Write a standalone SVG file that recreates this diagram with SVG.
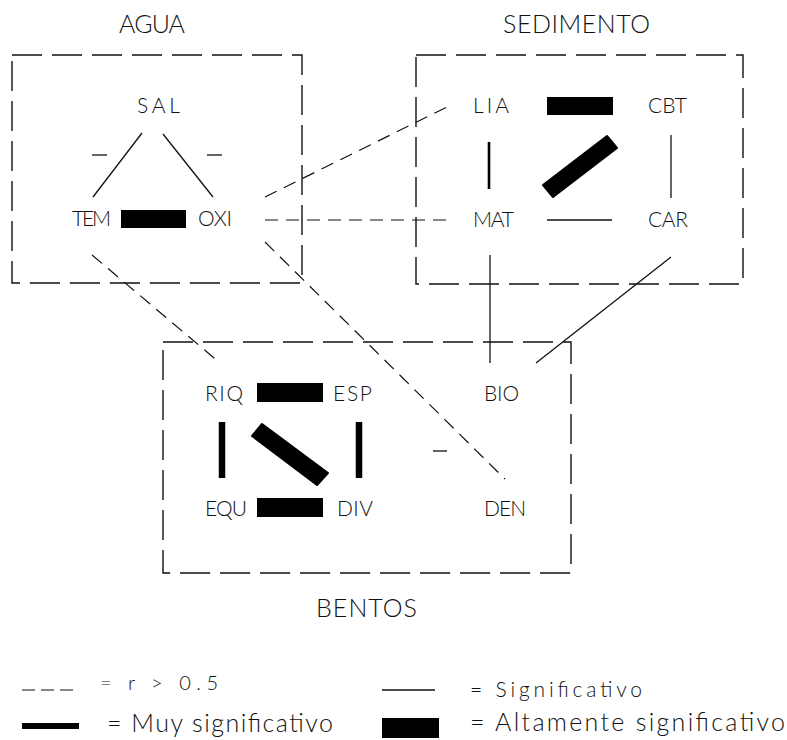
<svg xmlns="http://www.w3.org/2000/svg" width="787" height="740" viewBox="0 0 787 740">
  <style>
    .frame { fill: none; stroke: #111; stroke-width: 1.4; stroke-dasharray: 30 10; }
    .title { font-family: Lato, "Liberation Sans", sans-serif; font-weight: 300; font-size: 25px; fill: #111; }
    .lbl { font-family: Lato, "Liberation Sans", sans-serif; font-weight: 300; font-size: 21px; fill: #111; }
    .leg { font-family: Lato, "Liberation Sans", sans-serif; font-weight: 300; fill: #111; }
    .sig { stroke: #111; stroke-width: 1.3; fill: none; }
    .r05 { stroke: #111; stroke-width: 1.2; fill: none; stroke-dasharray: 13 8; }
    .muy { stroke: #000; stroke-width: 5; fill: none; }
    .alt { fill: #000; }
    .altd { fill: #000; stroke: #000; stroke-width: 2; stroke-linejoin: round; }
  </style>

  <!-- group frames with their headings -->
  <g id="agua">
    <rect class="frame" x="12" y="55" width="290" height="228"/>
    <text class="title" x="119" y="33" textLength="66" lengthAdjust="spacing">AGUA</text>
  </g>
  <g id="sedimento">
    <rect class="frame" x="416" y="55" width="327" height="229"/>
    <text class="title" x="503" y="33" textLength="147" lengthAdjust="spacing">SEDIMENTO</text>
  </g>
  <g id="bentos">
    <rect class="frame" x="163" y="342" width="408" height="231"/>
    <text class="title" x="316" y="617" textLength="101" lengthAdjust="spacing">BENTOS</text>
  </g>

  <!-- variables -->
  <g id="node-sal"><text class="lbl" x="137" y="113" textLength="43" lengthAdjust="spacing">SAL</text></g>
  <g id="node-tem"><text class="lbl" x="72" y="226" textLength="39" lengthAdjust="spacing">TEM</text></g>
  <g id="node-oxi"><text class="lbl" x="198" y="226" textLength="34" lengthAdjust="spacing">OXI</text></g>
  <g id="node-lia"><text class="lbl" x="473" y="113" textLength="36" lengthAdjust="spacing">LIA</text></g>
  <g id="node-cbt"><text class="lbl" x="648" y="113" textLength="39" lengthAdjust="spacing">CBT</text></g>
  <g id="node-mat"><text class="lbl" x="473" y="227" textLength="41" lengthAdjust="spacing">MAT</text></g>
  <g id="node-car"><text class="lbl" x="648" y="227" textLength="40" lengthAdjust="spacing">CAR</text></g>
  <g id="node-riq"><text class="lbl" x="205" y="401" textLength="38" lengthAdjust="spacing">RIQ</text></g>
  <g id="node-esp"><text class="lbl" x="333" y="401" textLength="39" lengthAdjust="spacing">ESP</text></g>
  <g id="node-bio"><text class="lbl" x="484" y="401" textLength="35" lengthAdjust="spacing">BIO</text></g>
  <g id="node-equ"><text class="lbl" x="205" y="516" textLength="42" lengthAdjust="spacing">EQU</text></g>
  <g id="node-div"><text class="lbl" x="337" y="516" textLength="36" lengthAdjust="spacing">DIV</text></g>
  <g id="node-den"><text class="lbl" x="484" y="516" textLength="42" lengthAdjust="spacing">DEN</text></g>

  <!-- correlations -->
  <g id="connectors">
    <!-- significant (thin solid) -->
    <line class="sig" x1="142" y1="133" x2="93" y2="197"/>
    <line class="sig" x1="163" y1="134" x2="213" y2="197"/>
    <line class="sig" x1="671" y1="135" x2="671" y2="198"/>
    <line class="sig" x1="547" y1="220" x2="612" y2="220"/>
    <line class="sig" x1="490" y1="255" x2="490" y2="363"/>
    <line class="sig" x1="671" y1="257" x2="536" y2="363"/>
    <!-- negative signs -->
    <line class="sig" x1="92" y1="155" x2="107" y2="155"/>
    <line class="sig" x1="207" y1="155" x2="222" y2="155"/>
    <line class="sig" x1="433" y1="451" x2="447" y2="451"/>

    <!-- r > 0.5 (dashed) -->
    <line class="r05" x1="265" y1="197" x2="453" y2="104"/>
    <line class="r05" x1="265" y1="220" x2="453" y2="220"/>
    <line class="r05" x1="265" y1="242" x2="505" y2="479"/>
    <line class="r05" x1="92" y1="255" x2="220" y2="363"/>

    <!-- very significant -->
    <line class="muy" x1="489" y1="142" x2="489" y2="189" style="stroke-width:2.6"/>
    <line class="muy" x1="222" y1="422" x2="222" y2="478" style="stroke-width:6.5"/>
    <line class="muy" x1="359" y1="422" x2="359" y2="478" style="stroke-width:6.5"/>

    <!-- highly significant (bars) -->
    <rect class="alt" x="121" y="210" width="65" height="18"/>
    <rect class="alt" x="547" y="97" width="66" height="18"/>
    <rect class="alt" x="257" y="383" width="66" height="19"/>
    <rect class="alt" x="257" y="498" width="66" height="19"/>
    <polygon class="altd" points="543,185 553,197 617,148 607,136"/>
    <polygon class="altd" points="252,436 262,424 328,473 317,485"/>
  </g>

  <!-- key -->
  <g id="legend">
    <line class="r05" x1="22" y1="690" x2="73" y2="690" style="stroke-dasharray:13 6"/>
    <text class="leg" x="100" y="690" font-size="20" textLength="118" lengthAdjust="spacing">= r &gt; 0.5</text>
    <line class="sig" x1="382" y1="690" x2="435" y2="690"/>
    <text class="leg" x="470" y="697" font-size="21" textLength="172" lengthAdjust="spacing">= Significativo</text>
    <line class="muy" x1="22" y1="726" x2="79" y2="726" style="stroke-width:6"/>
    <text class="leg" x="107" y="732" font-size="25" textLength="226" lengthAdjust="spacing">= Muy significativo</text>
    <rect class="alt" x="382" y="718" width="57" height="20"/>
    <text class="leg" x="470" y="731" font-size="25" textLength="315" lengthAdjust="spacing">= Altamente significativo</text>
  </g>
</svg>
